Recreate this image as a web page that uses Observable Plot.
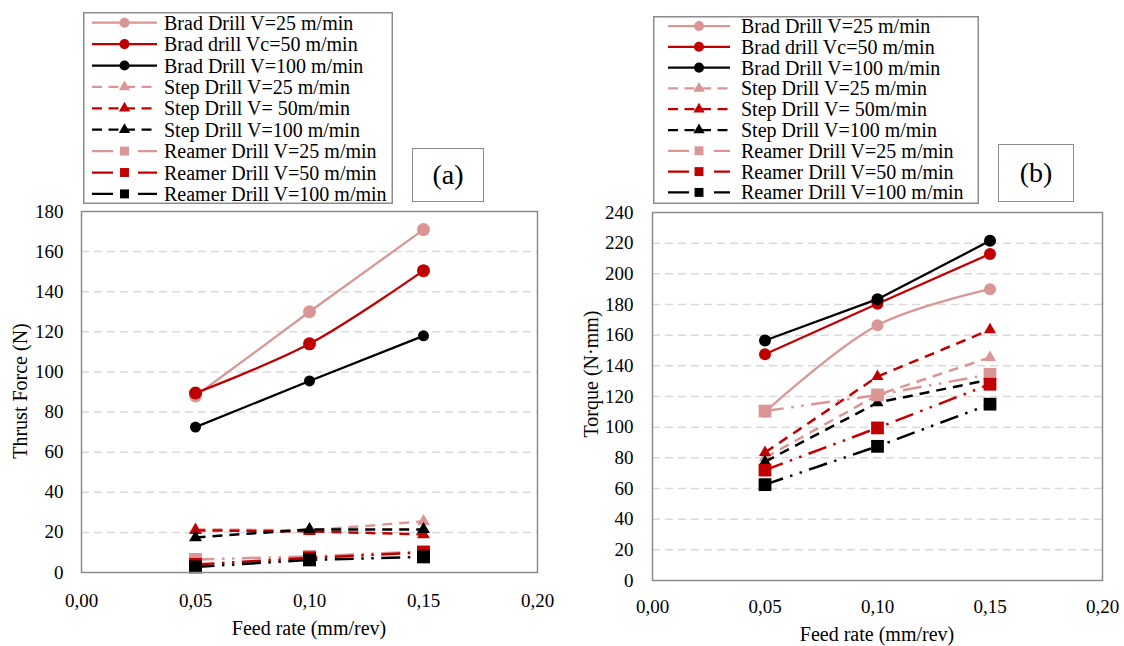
<!DOCTYPE html>
<html><head><meta charset="utf-8">
<script src="https://cdn.jsdelivr.net/npm/d3@7"></script>
<script src="https://cdn.jsdelivr.net/npm/@observablehq/plot@0.6"></script>
<style>
body{margin:0;background:#fff;}
#wrap{position:relative;width:1124px;height:646px;font-family:"Liberation Serif","Times New Roman",serif;color:#000;overflow:hidden;}
.pos{position:absolute;}
.tag{position:absolute;border:1.5px solid #8c8c8c;box-sizing:border-box;font-size:28px;display:flex;align-items:center;justify-content:center;background:#fff;}
.xl{position:absolute;font-size:20px;transform:translate(-50%,-50%);white-space:nowrap;}
.yl{position:absolute;font-size:20px;transform:translate(-50%,-50%) rotate(-90deg);white-space:nowrap;}
</style></head>
<body>
<div id="wrap"></div>
<script>
// ---------- data ----------
const feed = [0.05, 0.10, 0.15];
const xTicks = [0, 0.05, 0.10, 0.15, 0.20];
const thrustTicks = [0, 20, 40, 60, 80, 100, 120, 140, 160, 180];
const torqueTicks = [0, 20, 40, 60, 80, 100, 120, 140, 160, 180, 200, 220, 240];

const seriesNames = [
  "Brad Drill V=25 m/min", "Brad drill Vc=50 m/min", "Brad Drill V=100 m/min",
  "Step Drill V=25 m/min", "Step Drill V= 50m/min", "Step Drill V=100 m/min",
  "Reamer Drill V=25 m/min", "Reamer Drill V=50 m/min", "Reamer Drill V=100 m/min"
];
const seriesTool = ["brad","brad","brad","step","step","step","reamer","reamer","reamer"];
const seriesColors = ["#D99694","#C00000","#000000","#D99694","#C00000","#000000","#D99694","#C00000","#000000"];

// Thrust force (N)
const thrustBrad25 = [88, 130, 171];
const thrustBrad50 = [89.5, 114, 150.5];
const thrustBrad100 = [72.5, 95.5, 118];
const thrustStep25 = [21.5, 21, 25.5];
const thrustStep50 = [21, 20.5, 19];
const thrustStep100 = [17.5, 21.5, 21.5];
const thrustReamer25 = [6.5, 8, 10.5];
const thrustReamer50 = [4, 7.3, 10];
const thrustReamer100 = [2.8, 6.3, 7.8];

// Torque (N·mm)
const torqueBrad25 = [110, 166.5, 190];
const torqueBrad50 = [147.5, 180.5, 213];
const torqueBrad100 = [156.5, 183.5, 221.5];
const torqueStep25 = [80, 121, 145.5];
const torqueStep50 = [83.5, 133, 163.5];
const torqueStep100 = [77.5, 116, 131];
const torqueReamer25 = [110.5, 121, 134.5];
const torqueReamer50 = [72, 99.5, 128];
const torqueReamer100 = [62.5, 87.5, 115];

const thrustValues = [thrustBrad25, thrustBrad50, thrustBrad100, thrustStep25, thrustStep50, thrustStep100, thrustReamer25, thrustReamer50, thrustReamer100];
const torqueValues = [torqueBrad25, torqueBrad50, torqueBrad100, torqueStep25, torqueStep50, torqueStep100, torqueReamer25, torqueReamer50, torqueReamer100];

// ---------- styles ----------
const toolStyle = {
  brad:   {symbol: "circle",   dash: null,                         width: 2.25, legendDash: null},
  step:   {symbol: "triangle", dash: "10,7",                       width: 2.5,  legendDash: "10,6.5"},
  reamer: {symbol: "square",   dash: "19,7.5,2.5,7.5,2.5,7.5",     width: 2.5,  legendDash: "21,25"}
};

const fmtX = d => d.toFixed(2).replace(".", ",");

function chart(values, o) {
  const marks = [
    Plot.gridY(o.yTicks.filter(t => t > 0 && t < o.yMax), {stroke: "#d9d9d9", strokeOpacity: 1, strokeWidth: 1.5, strokeDasharray: "8,5"})
  ];
  values.forEach((vals, i) => {
    const st = toolStyle[seriesTool[i]];
    const data = feed.map((f, j) => ({x: f, y: vals[j]}));
    marks.push(Plot.line(data, {
      x: "x", y: "y", stroke: seriesColors[i], strokeWidth: st.width,
      strokeDasharray: st.dash || undefined, strokeLinecap: "butt",
      curve: o.smooth.includes(i) ? "catmull-rom" : "linear"
    }));
    marks.push(Plot.dot(data, {x: "x", y: "y", symbol: st.symbol, fill: seriesColors[i], stroke: "none", r: o.r[i]}));
  });
  marks.push(Plot.frame({stroke: "#8c8c8c", strokeWidth: 1.5}));
  marks.push(Plot.axisX({ticks: xTicks, tickFormat: fmtX, tickSize: 0, tickPadding: o.xPad, label: null, fontSize: 19}));
  marks.push(Plot.axisY({ticks: o.yTicks, tickSize: 0, tickPadding: o.yPad, label: null, fontSize: 19}));
  return Plot.plot({
    width: o.width, height: o.height,
    marginLeft: o.mL, marginRight: o.mR, marginTop: o.mT, marginBottom: o.mB,
    x: {domain: [0, 0.2]},
    y: {domain: [0, o.yMax]},
    marks,
    style: {fontFamily: '"Liberation Serif", "Times New Roman", serif', fontSize: "19px", color: "#000", background: "transparent", overflow: "visible"}
  });
}

const wrap = document.getElementById("wrap");

function place(el, left, top) {
  el.style.position = "absolute";
  el.style.left = left + "px";
  el.style.top = top + "px";
  wrap.appendChild(el);
}

const left = chart(thrustValues, {
  width: 560, height: 451, mL: 81, mR: 23, mT: 16, mB: 74,
  yMax: 180, yTicks: thrustTicks, xPad: 21, yPad: 18, smooth: [1],
  r: [6.5, 6.5, 5.5, 4.8, 4.8, 4.8, 7.3, 7.3, 7.3]
});
place(left, 0, 195);

const right = chart(torqueValues, {
  width: 564, height: 450, mL: 92, mR: 22, mT: 16, mB: 66,
  yMax: 240, yTicks: torqueTicks, xPad: 19, yPad: 19, smooth: [0],
  r: [6, 6, 6, 4.5, 4.5, 4.5, 7.2, 7.2, 7.2]
});
place(right, 560, 196);

// ---------- legends ----------
function legend(o) {
  const svg = d3.create("svg").attr("width", o.w).attr("height", o.h)
    .style("font-family", '"Liberation Serif", "Times New Roman", serif');
  svg.append("rect").attr("x", 0.75).attr("y", 0.75).attr("width", o.w - 1.5).attr("height", o.h - 1.5)
    .attr("fill", "#fff").attr("stroke", "#8c8c8c").attr("stroke-width", 1.5);
  seriesNames.forEach((name, i) => {
    const st = toolStyle[seriesTool[i]];
    const y = o.y0 + i * o.dy;
    const c = seriesColors[i];
    svg.append("line").attr("x1", o.sx0).attr("x2", o.sx1).attr("y1", y).attr("y2", y)
      .attr("stroke", c).attr("stroke-width", 2.25)
      .attr("stroke-dasharray", st.legendDash);
    const mx = (o.sx0 + o.sx1) / 2;
    const sym = st.symbol === "circle" ? d3.symbolCircle : st.symbol === "triangle" ? d3.symbolTriangle : d3.symbolSquare;
    const size = st.symbol === "circle" ? 80 : st.symbol === "triangle" ? 55 : 80;
    svg.append("path").attr("d", d3.symbol(sym, size)()).attr("transform", `translate(${mx},${y})`).attr("fill", c);
    svg.append("text").attr("x", o.tx).attr("y", y).attr("dy", "0.35em")
      .attr("font-size", 20).attr("fill", "#000").text(name);
  });
  return svg.node();
}

place(legend({w: 310, h: 192, y0: 10.7, dy: 21.4, sx0: 9, sx1: 74, tx: 81}), 83, 12);
place(legend({w: 326, h: 188, y0: 10, dy: 20.8, sx0: 15, sx1: 77, tx: 88}), 653, 16);

// tags
function tag(text, l, t, w, h) {
  const d = document.createElement("div");
  d.className = "tag";
  d.textContent = text;
  d.style.left = l + "px"; d.style.top = t + "px";
  d.style.width = w + "px"; d.style.height = h + "px";
  wrap.appendChild(d);
}
tag("(a)", 412, 148, 72, 54);
tag("(b)", 998, 144, 76, 58);

// axis titles
function lab(cls, text, x, y) {
  const d = document.createElement("div");
  d.className = cls;
  d.textContent = text;
  d.style.left = x + "px"; d.style.top = y + "px";
  wrap.appendChild(d);
}
lab("xl", "Feed rate (mm/rev)", 309, 628);
lab("xl", "Feed rate (mm/rev)", 877, 634);
lab("yl", "Thrust Force (N)", 20, 391);
lab("yl", "Torque (N·mm)", 591, 374);
</script>
</body></html>
